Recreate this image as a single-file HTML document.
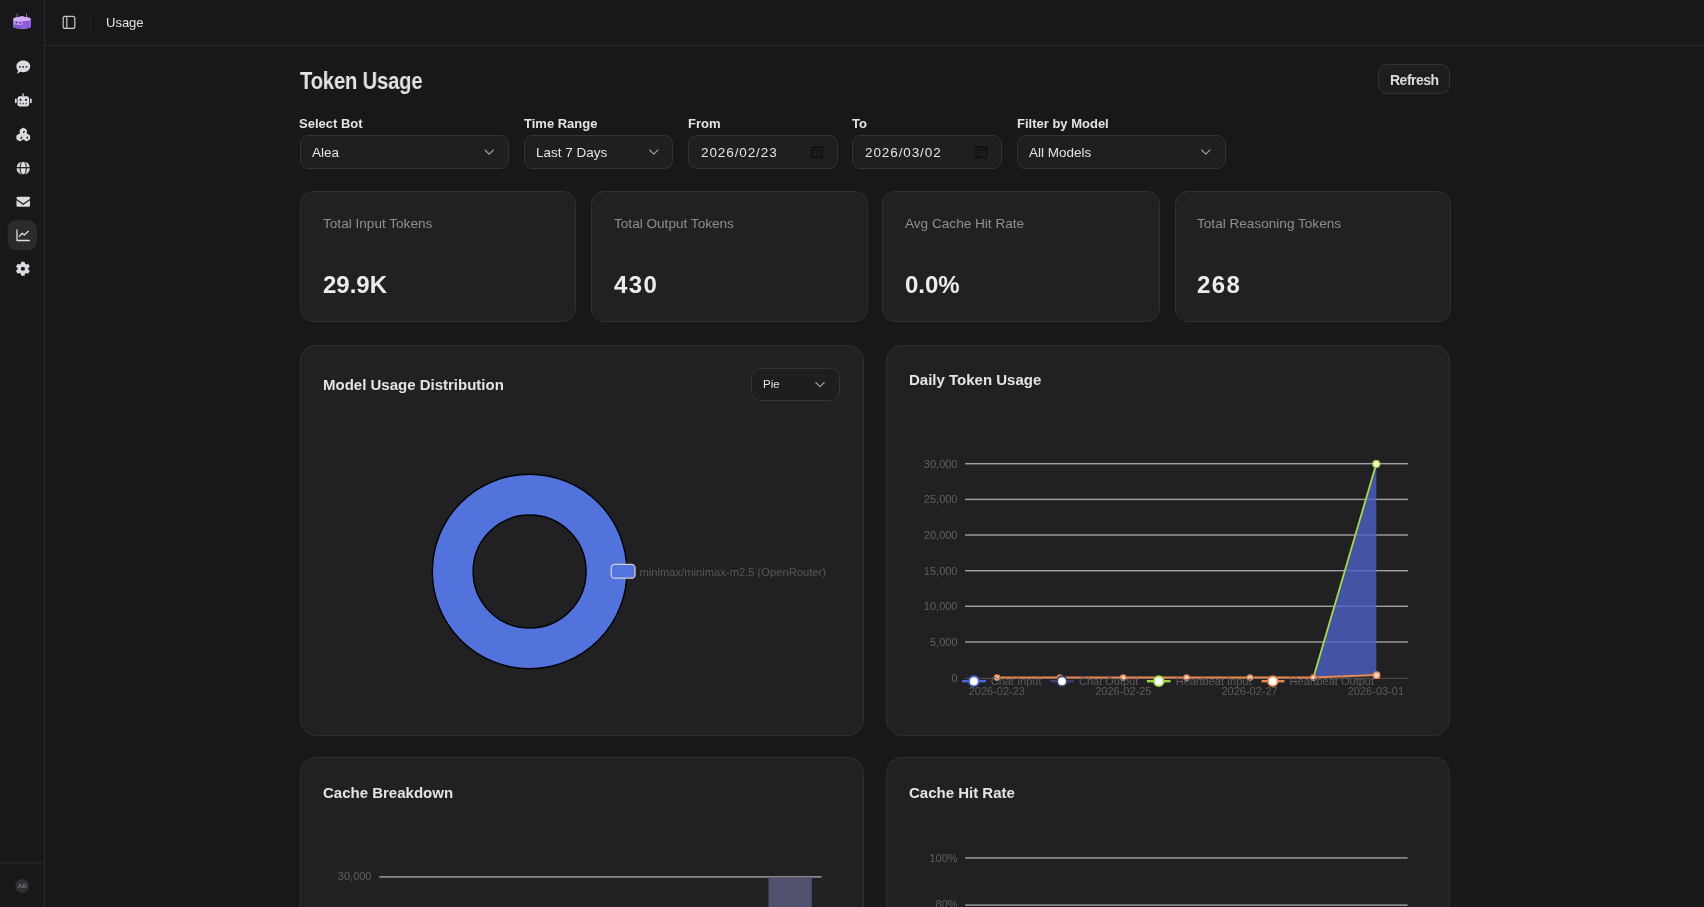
<!DOCTYPE html>
<html><head><meta charset="utf-8">
<style>
*{box-sizing:border-box;margin:0;padding:0}
html,body{width:1704px;height:907px;overflow:hidden;background:#18181b;font-family:"Liberation Sans",sans-serif;color:#e4e4e7}
.abs{position:absolute}
.side{position:absolute;left:0;top:0;width:45px;height:907px;border-right:1px solid #2a2a2e;background:#18181b}
.hdr{position:absolute;left:45px;top:0;width:1659px;height:46px;border-bottom:1px solid #2a2a2e}
.t{position:absolute;white-space:nowrap;line-height:1;will-change:transform}
.lbl{font-size:13px;font-weight:bold;color:#e4e4e7;top:117px}
.box{position:absolute;height:34px;border:1px solid #333336;border-radius:9px;background:#1f1f22}
.card{position:absolute;background:#212123;border:1px solid #303033;border-radius:13px}
.ccard{position:absolute;background:#212123;border:1px solid #303033;border-radius:16px}
.stl{font-size:13.6px;color:#8e8e93;top:217px}
.sv{font-size:24px;font-weight:bold;color:#ececef;top:273px}
.ctitle{font-size:15px;font-weight:bold;color:#e4e4e7}
.ax{font-size:11px;color:#6e6e73}
</style></head><body>
<div class="side">
<svg class="abs" style="left:0;top:0;will-change:transform" width="44" height="907" viewBox="0 0 44 907">
 <!-- logo -->
 <g>
  <rect x="16.6" y="13.8" width="1" height="4.5" fill="#8a78b8"/>
  <rect x="26" y="13.8" width="1" height="4.5" fill="#8a78b8"/>
  <path d="M13.2 19.8 Q13.2 17.8 15.3 17.5 L18.5 17.2 Q22 15.5 25.5 17.2 L28.7 17.5 Q30.8 17.8 30.8 19.8 L30.8 26.2 Q30.8 27.8 29 28.1 L22.5 29.3 L15 28.1 Q13.2 27.8 13.2 26.2 Z" fill="#b48ef0"/>
  <path d="M13.2 19.8 Q13.2 17.8 15.3 17.5 L18.5 17.2 Q22 15.5 25.5 17.2 L28.7 17.5 Q30.8 17.8 30.8 19.8 L30.8 20.5 L22.5 21.2 L13.2 20.5 Z" fill="#d4acf6"/>
  <path d="M22.5 21.2 L30.8 20.5 L30.8 26.2 Q30.8 27.8 29 28.1 L22.5 29.3 Z" fill="#8f5ae0"/>
  <path d="M13.3 24.6 L22.5 25.2 L22.5 29.3 L15 28.1 Q13.3 27.8 13.3 26.2 Z" fill="#7d5cc9"/>
  <circle cx="16.5" cy="22.4" r="0.9" fill="#5a3a90"/><circle cx="20.3" cy="22.8" r="0.9" fill="#5a3a90"/>
 </g>
 <!-- chat -->
 <path d="M23.3 60.4 C27.3 60.4 30.2 63 30.2 66.3 C30.2 69.6 27.3 72.2 23.3 72.2 C22.3 72.2 21.4 72.1 20.6 71.8 L17 73.8 L18.2 70.6 C17 69.5 16.4 68 16.4 66.3 C16.4 63 19.3 60.4 23.3 60.4 Z" fill="#dcdce0"/>
 <rect x="19" y="66" width="1.7" height="1.7" fill="#3a3a3e"/><rect x="22.3" y="66" width="1.7" height="1.7" fill="#3a3a3e"/><rect x="25.6" y="66" width="1.7" height="1.7" fill="#3a3a3e"/>
 <!-- robot -->
 <rect x="22.4" y="93.3" width="1.3" height="3.2" rx="0.6" fill="#dcdce0"/>
 <rect x="17.5" y="96.2" width="11.6" height="10.4" rx="2.4" fill="#dcdce0"/>
 <rect x="14.9" y="98.6" width="1.8" height="4.6" rx="0.9" fill="#dcdce0"/>
 <rect x="29.9" y="98.6" width="1.8" height="4.6" rx="0.9" fill="#dcdce0"/>
 <circle cx="20.6" cy="99.9" r="1.1" fill="#2a2a2e"/><circle cx="26" cy="99.9" r="1.1" fill="#2a2a2e"/>
 <rect x="19.6" y="102.8" width="1.5" height="1.5" fill="#55555a"/><rect x="22.5" y="102.8" width="1.5" height="1.5" fill="#55555a"/><rect x="25.4" y="102.8" width="1.5" height="1.5" fill="#55555a"/>
 <!-- cluster -->
 <path d="M26.16 133.35 L23.30 135.00 L20.44 133.35 L20.44 130.05 L23.30 128.40 L26.16 130.05 Z" fill="#dcdce0" stroke="#dcdce0" stroke-width="1.3" stroke-linejoin="round"/><path d="M22.76 139.05 L19.90 140.70 L17.04 139.05 L17.04 135.75 L19.90 134.10 L22.76 135.75 Z" fill="#dcdce0" stroke="#dcdce0" stroke-width="1.3" stroke-linejoin="round"/><path d="M29.46 139.05 L26.60 140.70 L23.74 139.05 L23.74 135.75 L26.60 134.10 L29.46 135.75 Z" fill="#dcdce0" stroke="#dcdce0" stroke-width="1.3" stroke-linejoin="round"/>
 <ellipse cx="23.9" cy="131.9" rx="0.75" ry="1.3" transform="rotate(30 23.9 131.9)" fill="#1a1a1c"/><ellipse cx="21.3" cy="137.8" rx="0.75" ry="1.3" transform="rotate(30 21.3 137.8)" fill="#1a1a1c"/><ellipse cx="27.3" cy="137.6" rx="0.75" ry="1.3" transform="rotate(30 27.3 137.6)" fill="#1a1a1c"/>
 <!-- globe -->
 <circle cx="23.2" cy="168.1" r="6.7" fill="#dcdce0"/>
 <rect x="16" y="167.1" width="14.5" height="1.2" fill="#1a1a1c"/>
 <ellipse cx="23.2" cy="168.1" rx="3.1" ry="6.9" fill="none" stroke="#1a1a1c" stroke-width="1.1"/>
 <!-- mail -->
 <rect x="16.5" y="196.8" width="13.5" height="10" rx="1.3" fill="#dcdce0"/>
 <path d="M16 199.2 L23.25 204.3 L30.5 199.2" fill="none" stroke="#1a1a1c" stroke-width="1.3"/>
 <!-- active -->
 <rect x="7.7" y="220.3" width="29.3" height="29.7" rx="8" fill="#2b2b2e"/>
 <path d="M17 230 L17 240.5 L29.3 240.5" fill="none" stroke="#dcdce0" stroke-width="1.3" stroke-linecap="round" stroke-linejoin="round"/>
 <path d="M19.3 236.3 L22.2 233.2 L24.3 235 L28.2 231.3" fill="none" stroke="#dcdce0" stroke-width="1.3" stroke-linecap="round" stroke-linejoin="round"/>
 <!-- gear -->
 <g>
  <path d="M20.45 264.51 L21.47 264.06 L21.64 262.27 L24.16 262.27 L24.33 264.06 L25.35 264.51 L26.24 265.17 L27.88 264.42 L29.14 266.60 L27.67 267.65 L27.80 268.75 L27.67 269.85 L29.14 270.90 L27.88 273.08 L26.24 272.33 L25.35 272.99 L24.33 273.44 L24.16 275.23 L21.64 275.23 L21.47 273.44 L20.45 272.99 L19.56 272.33 L17.92 273.08 L16.66 270.90 L18.13 269.85 L18.00 268.75 L18.13 267.65 L16.66 266.60 L17.92 264.42 L19.56 265.17 Z" fill="#dcdce0" stroke="#dcdce0" stroke-width="1.1" stroke-linejoin="round"/>
  <circle cx="22.9" cy="268.75" r="2.1" fill="#1a1a1c"/>
 </g>
 <!-- bottom -->
 <rect x="0" y="862.5" width="44" height="1" fill="#2a2a2e"/>
 <circle cx="22.2" cy="886" r="7" fill="#303034"/>
 <text x="22.2" y="888.3" font-family="Liberation Sans" font-size="6" font-weight="bold" fill="#7a7a80" text-anchor="middle">AD</text>
</svg>
</div>
<div class="hdr"></div>
<div class="t" style="left:106px;top:16px;font-size:13px;color:#e4e4e7">Usage</div>

<div class="t" style="left:300px;top:70px;font-size:23.5px;font-weight:bold;letter-spacing:-0.2px;transform:scaleX(0.86);transform-origin:0 0;color:#e4e4e7">Token Usage</div>

<div class="abs" style="left:1378px;top:64px;width:72px;height:30px;border:1px solid #333337;border-radius:9px;background:#1e1e21"></div>
<div class="t lbl" style="left:1390px;top:73px;font-size:14px;letter-spacing:-0.5px;color:#dcdce0">Refresh</div>

<div class="t lbl" style="left:299px">Select Bot</div>
<div class="t lbl" style="left:524px;">Time Range</div>
<div class="t lbl" style="left:688px;">From</div>
<div class="t lbl" style="left:852px;">To</div>
<div class="t lbl" style="left:1017px;">Filter by Model</div>

<div class="box" style="left:300px;top:135px;width:209px"></div>
<div class="box" style="left:524px;top:135px;width:149px"></div>
<div class="box" style="left:688px;top:135px;width:150px"></div>
<div class="box" style="left:852px;top:135px;width:150px"></div>
<div class="box" style="left:1017px;top:135px;width:209px"></div>

<div class="card" style="left:300px;top:191px;width:276px;height:131px"></div>
<div class="card" style="left:591px;top:191px;width:277px;height:131px"></div>
<div class="card" style="left:882px;top:191px;width:278px;height:131px"></div>
<div class="card" style="left:1175px;top:191px;width:276px;height:131px"></div>

<div class="ccard" style="left:300px;top:345px;width:564px;height:391px"></div>
<div class="ccard" style="left:886px;top:345px;width:564px;height:391px"></div>
<div class="ccard" style="left:300px;top:757px;width:564px;height:300px"></div>
<div class="ccard" style="left:886px;top:757px;width:564px;height:300px"></div>


<svg class="abs" style="left:45px;top:0" width="60" height="45" viewBox="45 0 60 45">
 <rect x="63.2" y="16.4" width="11.6" height="12" rx="2" fill="none" stroke="#c8c8cc" stroke-width="1.2"/>
 <rect x="66.2" y="16.4" width="1.2" height="12" fill="#c8c8cc"/>
 <rect x="89.6" y="15.2" width="1" height="14.4" fill="#2a2a2e"/>
</svg>

<div class="t" style="left:312px;top:145.5px;font-size:13.5px;color:#e4e4e7">Alea</div>
<div class="t" style="left:536px;top:145.5px;font-size:13.5px;color:#e4e4e7">Last 7 Days</div>
<div class="t" style="left:701px;top:145.5px;font-size:13.5px;letter-spacing:0.9px;color:#e4e4e7">2026/02/23</div>
<div class="t" style="left:865px;top:145.5px;font-size:13.5px;letter-spacing:0.9px;color:#e4e4e7">2026/03/02</div>
<div class="t" style="left:1029px;top:145.5px;font-size:13.5px;color:#e4e4e7">All Models</div>
<svg class="abs" style="left:0;top:0" width="1704" height="200" viewBox="0 0 1704 200">
 <g fill="none" stroke="#a1a1aa" stroke-width="1.1" stroke-linecap="round" stroke-linejoin="round">
  <path d="M485 150 L489.2 154.2 L493.4 150"/>
  <path d="M649.6 150 L653.8 154.2 L658 150"/>
  <path d="M1201.6 150 L1205.8 154.2 L1210 150"/>
 </g>
 <g fill="none" stroke="#0e0e10" stroke-width="1.3">
  <rect x="811.6" y="147" width="10.8" height="10.4" rx="2"/>
  <rect x="976" y="147" width="10.8" height="10.4" rx="2"/>
 </g>
 <g fill="#0e0e10">
  <rect x="811.6" y="149.6" width="10.8" height="1.1"/>
  <rect x="976" y="149.6" width="10.8" height="1.1"/>
  <circle cx="814.4" cy="152.4" r="0.6"/><circle cx="816.9" cy="152.4" r="0.6"/><circle cx="819.4" cy="152.4" r="0.6"/>
  <circle cx="814.4" cy="154.8" r="0.6"/><circle cx="816.9" cy="154.8" r="0.6"/>
  <circle cx="978.8" cy="152.4" r="0.6"/><circle cx="981.3" cy="152.4" r="0.6"/><circle cx="983.8" cy="152.4" r="0.6"/>
  <circle cx="978.8" cy="154.8" r="0.6"/><circle cx="981.3" cy="154.8" r="0.6"/>
 </g>
</svg>

<div class="t stl" style="left:323px;">Total Input Tokens</div>
<div class="t stl" style="left:614px;">Total Output Tokens</div>
<div class="t stl" style="left:905px;">Avg Cache Hit Rate</div>
<div class="t stl" style="left:1197px;">Total Reasoning Tokens</div>
<div class="t sv" style="left:323px;">29.9K</div>
<div class="t sv" style="left:614px;letter-spacing:1.4px">430</div>
<div class="t sv" style="left:905px;">0.0%</div>
<div class="t sv" style="left:1197px;letter-spacing:1.4px">268</div>

<div class="t ctitle" style="left:323px;top:377px">Model Usage Distribution</div>
<div class="t ctitle" style="left:909px;top:372px">Daily Token Usage</div>
<div class="t ctitle" style="left:323px;top:785px">Cache Breakdown</div>
<div class="t ctitle" style="left:909px;top:785px">Cache Hit Rate</div>

<div class="abs" style="left:751px;top:368px;width:89px;height:33px;border:1px solid #333337;border-radius:9px;background:#1e1e21"></div>
<div class="t" style="left:762.5px;top:379px;font-size:11.5px;color:#e4e4e7">Pie</div>

<svg class="abs" style="left:0;top:0" width="1704" height="907" viewBox="0 0 1704 907">
 <path d="M815.8 382.5 L820 386.7 L824.2 382.5" fill="none" stroke="#a1a1aa" stroke-width="1.1" stroke-linecap="round" stroke-linejoin="round"/>
 <!-- donut -->
 <path fill-rule="evenodd" d="M529.6 474.2 A97.3 97.3 0 1 1 529.6 668.8 A97.3 97.3 0 1 1 529.6 474.2 Z M529.6 515 A56.5 56.5 0 1 0 529.6 628 A56.5 56.5 0 1 0 529.6 515 Z" fill="#5272dc" stroke="#000000" stroke-width="1.4"/>
 <rect x="611.2" y="564.4" width="23.8" height="13.8" rx="3.5" fill="#5373dd" stroke="#cfcfd3" stroke-width="1.3"/>
 <text x="639.5" y="575.6" font-family="Liberation Sans" font-size="11.2" fill="#58585c">minimax/minimax-m2.5 (OpenRouter)</text>

 <!-- daily token usage -->
 <g font-family="Liberation Sans" font-size="11" fill="#606064" text-anchor="end">
  <text x="957.5" y="467.6">30,000</text>
  <text x="957.5" y="503.2">25,000</text>
  <text x="957.5" y="538.9">20,000</text>
  <text x="957.5" y="574.5">15,000</text>
  <text x="957.5" y="610.2">10,000</text>
  <text x="957.5" y="645.8">5,000</text>
  <text x="957.5" y="681.5">0</text>
 </g>
 <g fill="#a2a2a6">
  <rect x="965" y="463" width="443" height="1.4"/>
  <rect x="965" y="498.7" width="443" height="1.4"/>
  <rect x="965" y="534.3" width="443" height="1.4"/>
  <rect x="965" y="570" width="443" height="1.4"/>
  <rect x="965" y="605.6" width="443" height="1.4"/>
  <rect x="965" y="641.3" width="443" height="1.4"/>
 </g>
 <rect x="965" y="677.8" width="443" height="1.2" fill="#4a4a4e"/>
 <path d="M1313.4 677.5 L1376.3 463.8 L1376.3 675 Z" fill="rgb(76,98,198)" fill-opacity="0.8"/>
 <g font-family="Liberation Sans" font-size="11" fill="#5c5c60" text-anchor="middle">
  <text x="996.8" y="695.3">2026-02-23</text>
  <text x="1123.3" y="695.3">2026-02-25</text>
  <text x="1249.6" y="695.3">2026-02-27</text>
  <text x="1375.9" y="695.3">2026-03-01</text>
 </g>
 <!-- lines -->
 <polyline points="997,677.6 1313.4,677.6 1376.5,675" fill="none" stroke="#e58a52" stroke-width="2"/>
 <line x1="1313.4" y1="677.6" x2="1376.3" y2="463.8" stroke="#a8d84a" stroke-width="1.8"/>
 <g fill="#f6d8c4" stroke="#e58a52" stroke-width="1.4">
  <circle cx="997" cy="677.6" r="2.6"/>
  <circle cx="1060" cy="677.6" r="2.6"/>
  <circle cx="1123.2" cy="677.6" r="2.6"/>
  <circle cx="1186.6" cy="677.6" r="2.6"/>
  <circle cx="1250" cy="677.6" r="2.6"/>
  <circle cx="1313.4" cy="677.6" r="2.6"/>
  <circle cx="1376.6" cy="675.2" r="3.2"/>
 </g>
 <circle cx="1376.3" cy="464" r="3.4" fill="#f0f8d8" stroke="#a8d84a" stroke-width="1.4"/>

 <!-- legend -->
 <g font-family="Liberation Sans" font-size="11" fill="#5c5c60">
  <text x="990.7" y="684.6">Chat Input</text>
  <text x="1079" y="684.6">Chat Output</text>
  <text x="1175.7" y="684.6">Heartbeat Input</text>
  <text x="1289.6" y="684.6">Heartbeat Output</text>
 </g>
 <g stroke-width="2.4">
  <line x1="962" y1="681.2" x2="986" y2="681.2" stroke="#4a6ad0"/>
  <line x1="1050.3" y1="681.2" x2="1073.8" y2="681.2" stroke="#3a4170"/>
  <line x1="1147" y1="681.2" x2="1170.5" y2="681.2" stroke="#a0d448"/>
  <line x1="1261.5" y1="681.2" x2="1284.4" y2="681.2" stroke="#e88850"/>
 </g>
 <g fill="#ffffff" stroke-width="1.9">
  <circle cx="973.9" cy="681.2" r="4.9" stroke="#4a6ad0"/>
  <circle cx="1062" cy="681.2" r="4.9" stroke="#3a4170"/>
  <circle cx="1158.8" cy="681.2" r="4.9" stroke="#a8d84c"/>
  <circle cx="1272.8" cy="681.2" r="4.9" stroke="#e88850"/>
 </g>
 <!-- cache breakdown -->
 <text x="371.5" y="879.8" font-family="Liberation Sans" font-size="11" fill="#606064" text-anchor="end">30,000</text>
 <rect x="379.3" y="876.2" width="442.3" height="1.4" fill="#a2a2a6"/>
 <rect x="768.5" y="877.4" width="43.3" height="40" fill="#52526e"/>
 <text x="371.5" y="914.7" font-family="Liberation Sans" font-size="11" fill="#606064" text-anchor="end">20,000</text>

 <!-- cache hit rate -->
 <text x="957.6" y="861.6" font-family="Liberation Sans" font-size="11" fill="#606064" text-anchor="end">100%</text>
 <rect x="965.1" y="857.2" width="442.5" height="1.4" fill="#a2a2a6"/>
 <text x="957.6" y="908.4" font-family="Liberation Sans" font-size="11" fill="#606064" text-anchor="end">80%</text>
 <rect x="965.1" y="904.4" width="442.5" height="1.4" fill="#a2a2a6"/>
</svg>
</body></html>
